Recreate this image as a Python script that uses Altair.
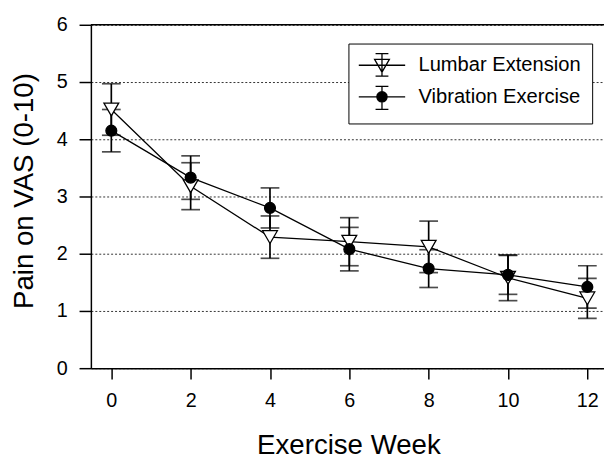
import altair as alt
import pandas as pd

weeks = [0, 2, 4, 6, 8, 10, 12]
series_names = ["Lumbar Extension", "Vibration Exercise"]
lumbar_mean = [4.52, 3.18, 2.29, 2.21, 2.12, 1.58, 1.22]
lumbar_se = [0.45, 0.41, 0.37, 0.42, 0.45, 0.40, 0.35]
vib_mean = [4.15, 3.33, 2.80, 2.08, 1.74, 1.63, 1.42]
vib_se = [0.37, 0.38, 0.35, 0.38, 0.33, 0.34, 0.37]
y_ticks = [0, 1, 2, 3, 4, 5, 6]

rows = []
for name, means, ses in [(series_names[0], lumbar_mean, lumbar_se),
                         (series_names[1], vib_mean, vib_se)]:
    for w, m, s in zip(weeks, means, ses):
        rows.append({"week": w, "series": name, "pain": m, "lo": m - s, "hi": m + s})
df = pd.DataFrame(rows)

FONT = "Liberation Sans"

x_enc = alt.X(
    "week:Q",
    scale=alt.Scale(domain=[-0.515, 12.42], nice=False, zero=False),
    axis=alt.Axis(
        values=weeks, title="Exercise Week", grid=False, format="d",
        labelFontSize=20, labelFont=FONT, labelColor="black", labelPadding=12,
        labelFlush=False,
        tickColor="black", tickSize=11, tickWidth=1.5,
        domainColor="black", domainWidth=1.5,
        titleFont=FONT, titleFontSize=28, titleFontWeight="normal", titleColor="black",
        titleBaseline="alphabetic", titleY=86, titleX=261,
    ),
)
y_axis = alt.Axis(
    values=y_ticks, title="Pain on VAS (0-10)", grid=True, format="d",
    gridColor="#333333", gridDash=[2, 2], gridWidth=1,
    labelFontSize=20, labelFont=FONT, labelColor="black", labelPadding=12,
    labelFlush=False,
    tickColor="black", tickSize=12, tickWidth=1.5,
    domainColor="black", domainWidth=1.5,
    titleFont=FONT, titleFontSize=28, titleFontWeight="normal", titleColor="black",
    titleBaseline="alphabetic", titleX=-59, titleY=168,
)
y_scale = alt.Scale(domain=[0, 6], nice=False)

base = alt.Chart(df)

lines = base.mark_line(color="black", strokeWidth=1.3).encode(
    x=x_enc,
    y=alt.Y("pain:Q", scale=y_scale, axis=y_axis),
    detail="series:N",
)

err = base.mark_rule(color="black", strokeWidth=1.7).encode(
    x="week:Q",
    y="lo:Q",
    y2="hi:Q",
)
cap_lo = base.mark_tick(orient="horizontal", size=19, thickness=1.7, color="black").encode(
    x="week:Q", y="lo:Q"
)
cap_hi = base.mark_tick(orient="horizontal", size=19, thickness=1.7, color="black").encode(
    x="week:Q", y="hi:Q"
)

points = base.mark_point(stroke="black", strokeWidth=1.3, opacity=1).encode(
    x="week:Q",
    y="pain:Q",
    shape=alt.Shape("series:N", scale=alt.Scale(domain=series_names, range=["triangle-down", "circle"]), legend=None),
    fill=alt.Fill("series:N", scale=alt.Scale(domain=series_names, range=["white", "black"]), legend=None),
    size=alt.Size("series:N", scale=alt.Scale(domain=series_names, range=[225, 121]), legend=None),
)

# legend glyphs: line + error bar + marker, in symbol units (1 unit = 10 px at symbolSize 400)
lumbar_path = ("M-2.35,0L2.35,0M0,-1.17L0,1.1M-0.65,-1.17L0.65,-1.17M-0.65,1.1L0.65,1.1"
               "M-0.75,-0.6L0.75,-0.6L0,0.7Z")
vib_path = ("M-2.35,0L2.35,0M0,-1.07L0,1.27M-0.65,-1.07L0.65,-1.07M-0.65,1.27L0.65,1.27"
            "M-0.52,0A0.52,0.52 0 1,0 0.52,0A0.52,0.52 0 1,0 -0.52,0Z")

legend_layer = base.mark_point(strokeWidth=1.3, opacity=0).encode(
    x="week:Q",
    y="pain:Q",
    shape=alt.Shape(
        "series:N",
        scale=alt.Scale(domain=series_names, range=[lumbar_path, vib_path]),
        legend=alt.Legend(
            title=None, orient="none", legendX=261, legendY=19,
            padding=11, rowPadding=4, strokeColor="black", fillColor="white",
            symbolSize=400, symbolStrokeWidth=1.3, symbolStrokeColor="black",
            symbolOffset=12, symbolOpacity=1,
            labelFont=FONT, labelFontSize=20.4, labelColor="black",
            labelOffset=26, labelLimit=0, cornerRadius=0,
        ),
    ),
    fill=alt.Fill("series:N", scale=alt.Scale(domain=series_names, range=["white", "black"])),
    stroke=alt.Stroke("series:N", scale=alt.Scale(domain=series_names, range=["black", "black"])),
)

top_border = alt.Chart(pd.DataFrame({"top": [6]})).mark_rule(color="black", strokeWidth=1.5).encode(
    y="top:Q"
)

chart = alt.layer(lines, err, cap_lo, cap_hi, points, legend_layer, top_border).resolve_scale(
    shape="independent", fill="independent", size="independent", stroke="independent"
).properties(
    width=520, height=348,
    padding={"left": 84, "top": 14, "right": 0, "bottom": 88},
    autosize="none",
    background="white",
).configure_view(stroke=None)

chart.save("out.html", embed_options={"renderer": "svg", "actions": False})
